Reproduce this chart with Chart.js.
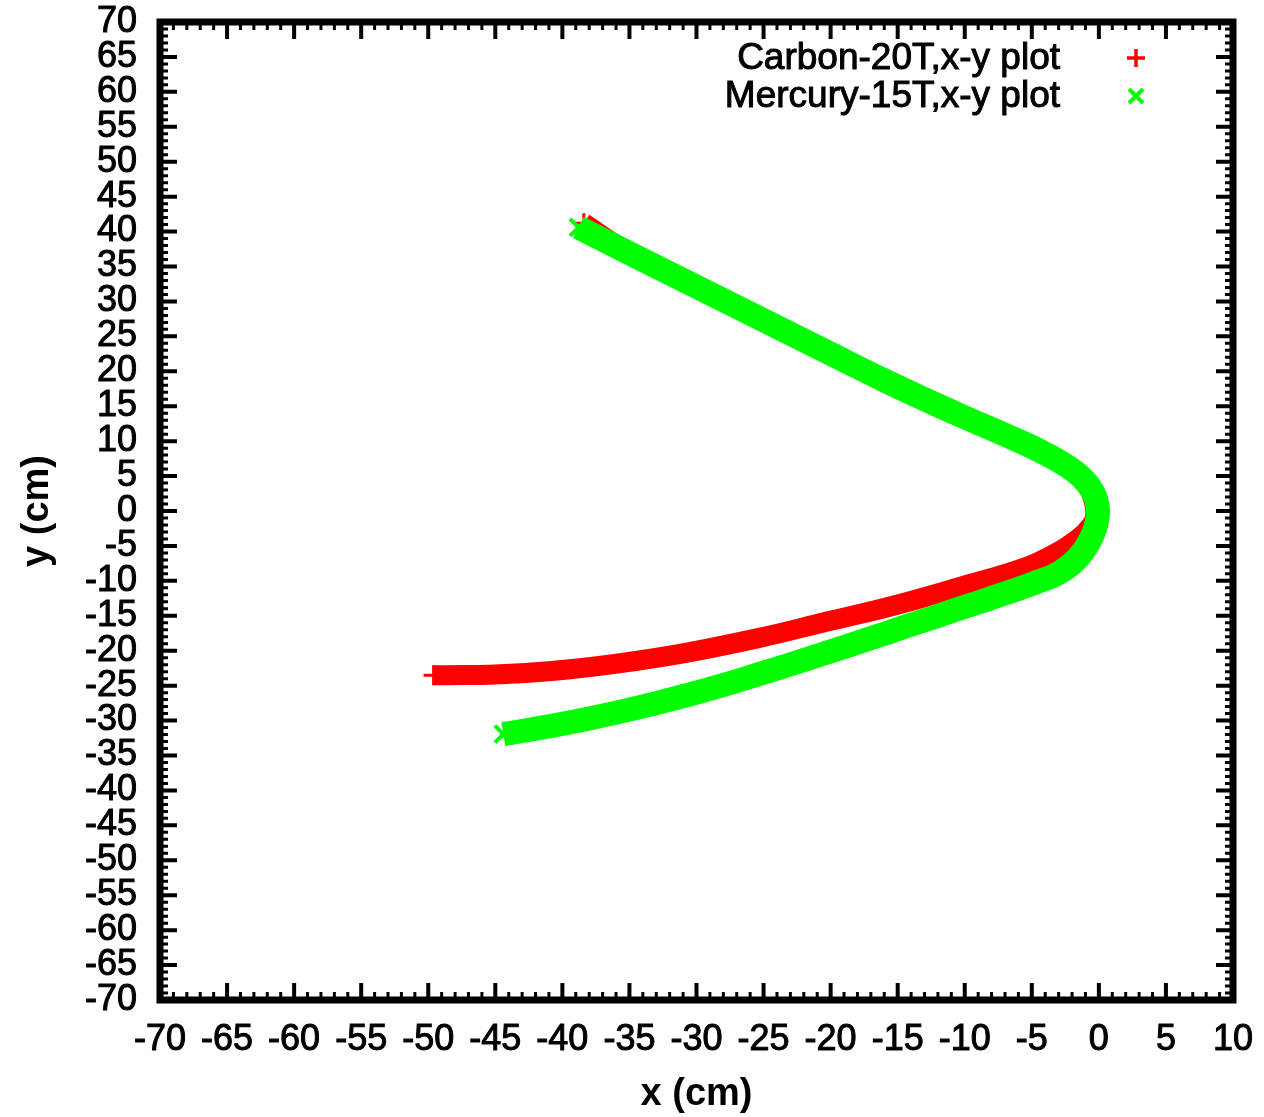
<!DOCTYPE html>
<html>
<head>
<meta charset="utf-8">
<script src="https://cdn.jsdelivr.net/npm/chart.js@4/dist/chart.umd.min.js"></script>
<style>
  html, body { margin: 0; padding: 0; background: #fff; }
  #wrap { width: 1264px; height: 1117px; position: relative; }
</style>
</head>
<body>
<div id="wrap"><canvas id="c"></canvas></div>
<script>
// ---- data ----
const seriesNames = ['Carbon-20T,x-y plot', 'Mercury-15T,x-y plot'];
const axisTitles = ['x (cm)', 'y (cm)'];
const xTicks = [-70, -65, -60, -55, -50, -45, -40, -35, -30, -25, -20, -15, -10, -5, 0, 5, 10];
const yTicks = [-70, -65, -60, -55, -50, -45, -40, -35, -30, -25, -20, -15, -10, -5, 0, 5, 10, 15, 20, 25, 30, 35, 40, 45, 50, 55, 60, 65, 70];

const carbonX = [-38.4, -35.0, -30.0, -25.0, -20.0, -16.0, -13.0, -10.0, -7.0, -4.5, -2.3, -1.0, -0.4, -0.3, -0.9, -1.8, -3.0, -5.4, -10.4, -15.4, -20.4, -25.4, -30.8, -35.8, -40.8, -45.0, -48.5, -49.6];
const carbonY = [41.2, 36.9, 32.1, 27.3, 22.5, 18.7, 16.0, 13.4, 10.9, 8.7, 6.2, 4.0, 1.5, -1.0, -2.8, -4.3, -5.8, -8.0, -10.9, -13.6, -15.9, -18.2, -20.3, -21.8, -22.9, -23.4, -23.5, -23.5];

const mercuryX = [-38.8, -35.0, -30.0, -25.0, -20.0, -16.0, -13.0, -10.0, -7.0, -4.5, -2.2, -0.9, -0.2, -0.1, -0.6, -1.6, -3.0, -4.8, -7.0, -9.5, -12.0, -14.5, -17.0, -20.0, -23.0, -25.5, -28.0, -30.5, -33.0, -35.5, -38.0, -40.5, -43.0, -44.4];
const mercuryY = [40.6, 36.9, 32.1, 27.3, 22.5, 18.7, 16.0, 13.4, 10.9, 8.7, 6.2, 4.0, 1.6, -1.0, -4.0, -6.8, -8.9, -10.3, -11.8, -13.4, -15.0, -16.6, -18.2, -20.1, -21.95, -23.45, -24.9, -26.25, -27.5, -28.65, -29.7, -30.65, -31.5, -31.95];

const toPoints = (xs, ys) => xs.map((x, i) => ({ x: x, y: ys[i] }));

const FONT = '"Liberation Sans", Arial, Helvetica, sans-serif';

// frame + inward gnuplot-style ticks
const framePlugin = {
  id: 'frame',
  afterDatasetsDraw(chart) {
    const { ctx, chartArea: a, scales } = chart;
    const xs = scales.x, ys = scales.y;
    ctx.save();
    ctx.strokeStyle = '#000';
    ctx.lineCap = 'butt';
    for (let v = xs.min; v <= xs.max; v += 1) {
      const p = xs.getPixelForValue(v);
      const major = v % 5 === 0;
      const len = major ? 17 : 8;
      ctx.lineWidth = major ? 4 : 3;
      ctx.beginPath();
      ctx.moveTo(p, a.bottom); ctx.lineTo(p, a.bottom - len);
      ctx.moveTo(p, a.top); ctx.lineTo(p, a.top + len);
      ctx.stroke();
    }
    for (let v = ys.min; v <= ys.max; v += 1) {
      const p = ys.getPixelForValue(v);
      const major = v % 5 === 0;
      const len = major ? 17 : 8;
      ctx.lineWidth = major ? 4 : 3;
      ctx.beginPath();
      ctx.moveTo(a.left, p); ctx.lineTo(a.left + len, p);
      ctx.moveTo(a.right, p); ctx.lineTo(a.right - len, p);
      ctx.stroke();
    }
    ctx.lineWidth = 7;
    ctx.strokeRect(a.left, a.top, a.right - a.left, a.bottom - a.top);
    ctx.restore();
  }
};

// gnuplot-style key: text right-aligned, sample to the right
const keyPlugin = {
  id: 'key',
  afterDraw(chart) {
    const { ctx } = chart;
    ctx.save();
    ctx.font = '37px ' + FONT;
    ctx.fillStyle = '#000';
    ctx.strokeStyle = '#000';
    ctx.lineWidth = 1;
    ctx.textAlign = 'right';
    ctx.textBaseline = 'middle';
    const rows = [58, 96];
    const tx = 1060, mx = 1136;
    chart.data.datasets.forEach((ds, i) => {
      const y = rows[i];
      ctx.fillText(ds.label, tx, y + 1);
      ctx.strokeText(ds.label, tx, y + 1);
    });
    chart.data.datasets.forEach((ds, i) => {
      const y = rows[i];
      ctx.strokeStyle = ds.pointBorderColor;
      ctx.lineWidth = i === 0 ? 3.5 : 4;
      ctx.beginPath();
      if (i === 0) {
        ctx.moveTo(mx - 9, y); ctx.lineTo(mx + 9, y);
        ctx.moveTo(mx, y - 9); ctx.lineTo(mx, y + 9);
      } else {
        ctx.moveTo(mx - 7, y - 7); ctx.lineTo(mx + 7, y + 7);
        ctx.moveTo(mx - 7, y + 7); ctx.lineTo(mx + 7, y - 7);
      }
      ctx.stroke();
    });
    ctx.restore();
  }
};

new Chart(document.getElementById('c'), {
  type: 'scatter',
  data: {
    datasets: [
      {
        label: seriesNames[0],
        data: toPoints(carbonX, carbonY),
        showLine: true,
        borderColor: '#ff0000',
        borderWidth: 20,
        tension: 0.4,
        borderCapStyle: 'butt',
        borderJoinStyle: 'round',
        pointStyle: 'cross',
        pointRadius: [10].concat(Array(carbonX.length - 2).fill(0), [10]),
        pointBorderWidth: 3,
        pointBorderColor: '#ff0000',
        pointBackgroundColor: '#ff0000',
        order: 2
      },
      {
        label: seriesNames[1],
        data: toPoints(mercuryX, mercuryY),
        showLine: true,
        borderColor: '#00ff00',
        borderWidth: 24,
        tension: 0.4,
        borderCapStyle: 'butt',
        borderJoinStyle: 'round',
        pointStyle: 'crossRot',
        pointRadius: [12].concat(Array(mercuryX.length - 2).fill(0), [12]),
        pointBorderWidth: 4,
        pointBorderColor: '#00ff00',
        pointBackgroundColor: '#00ff00',
        order: 1
      }
    ]
  },
  options: {
    responsive: true,
    maintainAspectRatio: false,
    animation: false,
    layout: { padding: { left: 0, top: 22, right: 31, bottom: 0 } },
    plugins: {
      legend: { display: false },
      tooltip: { enabled: false }
    },
    scales: {
      x: {
        type: 'linear',
        position: 'bottom',
        min: xTicks[0],
        max: xTicks[xTicks.length - 1],
        afterBuildTicks: (s) => { s.ticks = xTicks.map(v => ({ value: v })); },
        afterFit: (s) => { s.height = 117; s.paddingLeft = 0; s.paddingRight = 0; },
        grid: { display: false, drawTicks: false },
        border: { display: false },
        ticks: { color: '#000', padding: 18, maxRotation: 0, autoSkip: false,
                 textStrokeColor: '#000', textStrokeWidth: 1,
                 font: { family: FONT, size: 36 } },
        title: { display: true, text: axisTitles[0], color: '#000',
                 font: { family: FONT, size: 38, weight: 'bold', lineHeight: 1 }, padding: { top: 0, bottom: 3 } }
      },
      y: {
        type: 'linear',
        position: 'left',
        min: yTicks[0],
        max: yTicks[yTicks.length - 1],
        afterBuildTicks: (s) => { s.ticks = yTicks.map(v => ({ value: v })); },
        afterFit: (s) => { s.width = 160; s.paddingTop = 0; s.paddingBottom = 0; },
        grid: { display: false, drawTicks: false },
        border: { display: false },
        ticks: { color: '#000', padding: 23, autoSkip: false,
                 textStrokeColor: '#000', textStrokeWidth: 1,
                 font: { family: FONT, size: 36, lineHeight: 1.1 } },
        title: { display: true, text: axisTitles[1], color: '#000',
                 font: { family: FONT, size: 38, weight: 'bold', lineHeight: 1 }, padding: { top: 19, bottom: 0 } }
      }
    }
  },
  plugins: [framePlugin, keyPlugin]
});
</script>
</body>
</html>
